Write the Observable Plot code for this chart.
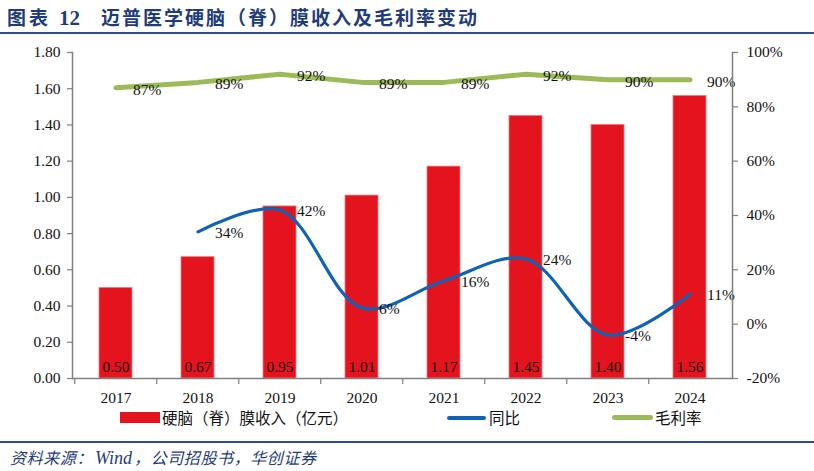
<!DOCTYPE html>
<html><head><meta charset="utf-8">
<script src="https://cdn.jsdelivr.net/npm/d3@7"></script>
<script src="https://cdn.jsdelivr.net/npm/@observablehq/plot@0.6"></script>
<style>
body{margin:0;background:#fff;}
#wrap{position:relative;width:814px;height:471px;overflow:hidden;font-family:'Noto Sans CJK SC',sans-serif;}
#title{position:absolute;left:7px;top:3px;color:#1f3c7a;font-size:19px;font-weight:700;white-space:nowrap;line-height:28px;}
#title .a{letter-spacing:3px;}
#title .num{font-family:'Liberation Serif',serif;font-size:21px;margin:0 21px 0 8px;letter-spacing:0;}
#title .b{letter-spacing:2px;}
.rule{position:absolute;left:0;width:814px;height:2px;background:#2b4d8c;}
#chart{position:absolute;left:0;top:40px;}
.lg{position:absolute;font-size:15.5px;color:#111;line-height:20px;top:407px;white-space:nowrap;}
.sw{position:absolute;}
#source{position:absolute;left:10px;top:446px;font-size:16px;letter-spacing:0.6px;color:#1f3c7a;font-style:italic;white-space:nowrap;line-height:22px;}
#source i{font-family:'Liberation Serif',serif;font-size:18px;letter-spacing:0;margin:0 2px;}
</style></head><body>
<div id="wrap">
  <div id="title"><span class="a">图表</span><span class="num">12</span><span class="b">迈普医学硬脑（脊）膜收入及毛利率变动</span></div>
  <div class="rule" style="top:32px"></div>
  <div id="chart"></div>
  <div class="sw" style="left:120px;top:412px;width:40px;height:11px;background:#e3141d;"></div>
  <div class="lg" style="left:162px;">硬脑（脊）膜收入（亿元）</div>
  <div class="sw" style="left:447px;top:416px;width:39px;height:3.5px;border-radius:2px;background:#0f62b5;"></div>
  <div class="lg" style="left:489px;">同比</div>
  <div class="sw" style="left:612px;top:415px;width:41px;height:5px;border-radius:2.5px;background:#9bbb59;"></div>
  <div class="lg" style="left:655px;">毛利率</div>
  <div class="rule" style="top:441px"></div>
  <div id="source">资料来源：<i>Wind</i>，公司招股书，华创证券</div>
</div>
<script>
const years = ["2017","2018","2019","2020","2021","2022","2023","2024"];
const revenue = [0.50, 0.67, 0.95, 1.01, 1.17, 1.45, 1.40, 1.56];
const yoy = [null, 34, 42, 6, 16, 24, -4, 11];
const grossMargin = [87, 89, 92, 89, 89, 92, 90, 90];
const leftTicks = [0, 0.2, 0.4, 0.6, 0.8, 1.0, 1.2, 1.4, 1.6, 1.8];
const rightTicks = [-20, 0, 20, 40, 60, 80, 100];

const leftMax = 1.8, pMin = -20, pMax = 100;
const toY = p => (p - pMin) / (pMax - pMin) * leftMax;
const fromY = v => v / leftMax * (pMax - pMin) + pMin;

const rows = years.map((y, i) => ({year: y, rev: revenue[i], yoy: yoy[i], gm: grossMargin[i]}));
const yoyRows = rows.filter(d => d.yoy != null);

const W = 814, H = 370, ML = 72, MR = 82, MT = 12, MB = 32;
// with paddingInner 0.6 and paddingOuter 0.3 the band step is range / n
const step = (W - ML - MR) / years.length;

const serif = "'Liberation Serif','Times New Roman',serif";
const grey = "#7f7f7f";

const plot = Plot.plot({
  width: W, height: H,
  marginLeft: ML, marginRight: MR, marginTop: MT, marginBottom: MB,
  style: {fontFamily: serif, fontSize: "15.5px", color: "#111", background: "transparent"},
  x: {type: "band", domain: years, paddingInner: 0.6, paddingOuter: 0.3},
  y: {domain: [0, leftMax]},
  marks: [
    Plot.barY(rows, {x: "year", y: "rev", fill: "#e3141d", stroke: "#f07a7a", strokeWidth: 0.8}),
    Plot.text(rows, {x: "year", y: 0, text: d => d.rev.toFixed(2), lineAnchor: "bottom", dy: -7, fill: "#111", fontSize: 15.5}),
    Plot.line(rows, {x: "year", y: d => toY(d.gm), stroke: "#9bbb59", strokeWidth: 5, strokeLinecap: "round", strokeLinejoin: "round"}),
    Plot.line(yoyRows, {x: "year", y: d => toY(d.yoy), stroke: "#0f62b5", strokeWidth: 3.2, curve: "catmull-rom", strokeLinecap: "round"}),
    Plot.text(rows, {x: "year", y: d => toY(d.gm), text: d => d.gm + "%", textAnchor: "start", dx: 17, dy: 2, fill: "#111", fontSize: 15.5}),
    Plot.text(yoyRows, {x: "year", y: d => toY(d.yoy), text: d => d.yoy + "%", textAnchor: "start", dx: 17, dy: 1, fill: "#111", fontSize: 15.5}),
    Plot.ruleY([0], {stroke: grey, strokeWidth: 1.5}),
    Plot.frame({anchor: "left", stroke: grey, strokeWidth: 1.5}),
    Plot.frame({anchor: "right", stroke: grey, strokeWidth: 1.5}),
    Plot.axisY({anchor: "left", ticks: leftTicks, tickFormat: d3.format(".2f"), tickSize: 5, tickPadding: 7, stroke: grey, strokeWidth: 1.2, label: null}),
    Plot.axisY({anchor: "right", ticks: rightTicks.map(toY), tickFormat: v => Math.round(fromY(v)) + "%", tickSize: 5, tickPadding: 9, stroke: grey, strokeWidth: 1.2, label: null}),
    Plot.axisX({ticks: years, tickSize: 6, tickFormat: () => "", dx: -step / 2, stroke: grey, strokeWidth: 1.2, label: null}),
    Plot.axisX({ticks: years, tickSize: 0, tickPadding: 13, label: null})
  ]
});
document.getElementById("chart").appendChild(plot);
</script>
</body></html>
